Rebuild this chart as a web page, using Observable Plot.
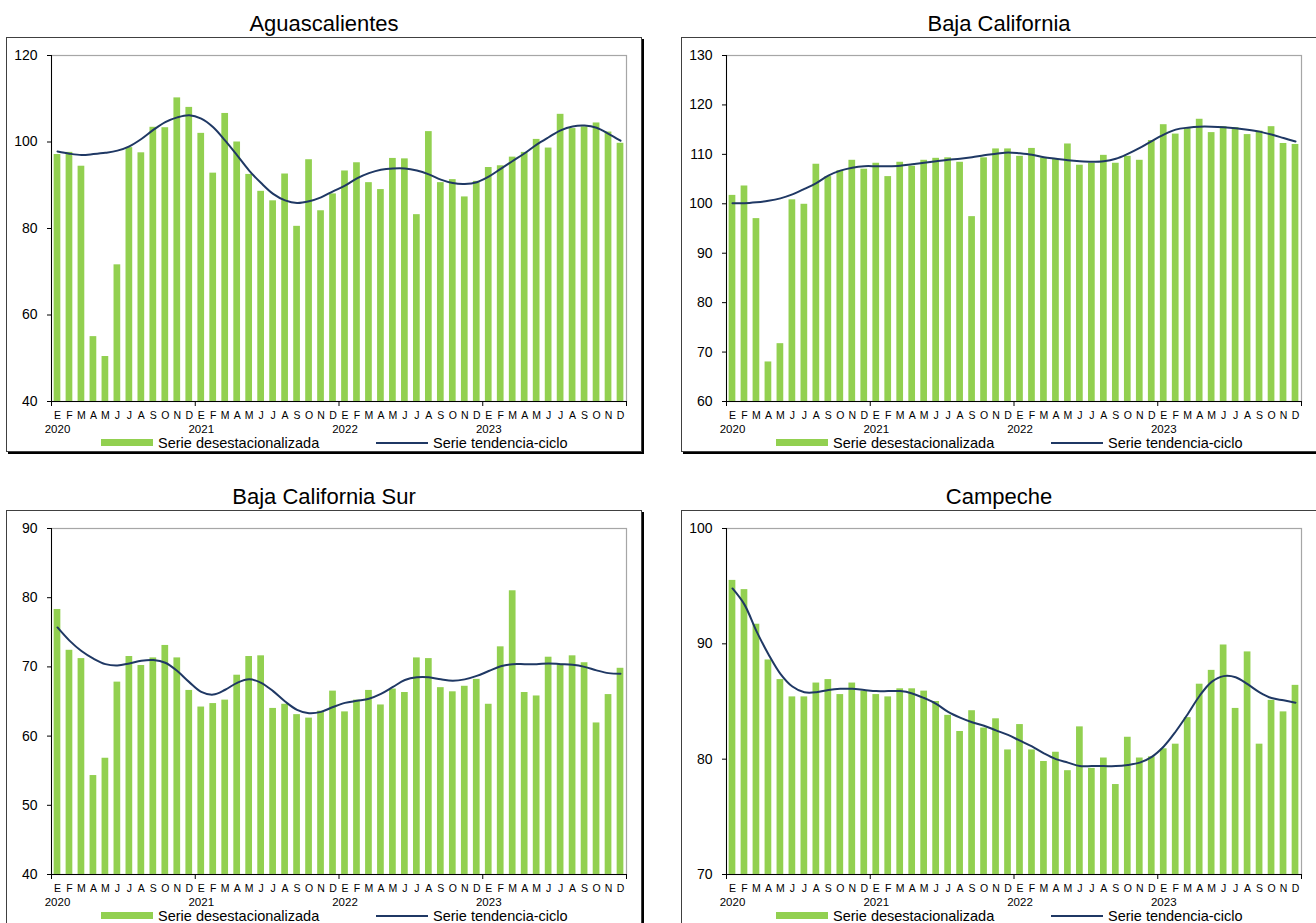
<!DOCTYPE html>
<html>
<head>
<meta charset="utf-8">
<script src="https://cdn.jsdelivr.net/npm/d3@7"></script>
<script src="https://cdn.jsdelivr.net/npm/@observablehq/plot@0.6"></script>
<style>
  html, body { margin: 0; padding: 0; background: #fff; }
  body { font-family: "Liberation Sans", Arial, sans-serif; color: #000; }
  #page { position: relative; width: 1316px; height: 923px; overflow: hidden; background: #fff; }
  .title { position: absolute; width: 636px; text-align: center; font-size: 22px; line-height: 22px; white-space: nowrap; }
  .box { position: absolute; width: 636px; height: 415px; box-sizing: border-box; border: 1px solid #404040; box-shadow: 2px 2px 0 #000; }
  .chart { position: absolute; width: 636px; }
  .chart svg { display: block; max-width: none; }
  .lg-rect { position: absolute; width: 52px; height: 7px; background: #92D050; }
  .lg-line { position: absolute; width: 52px; height: 2px; background: #1F3864; }
  .lg-text { position: absolute; font-size: 14.5px; line-height: 14.5px; white-space: nowrap; }
</style>
</head>
<body>
<div id="page"></div>
<script>
// Etiquetas del eje
const meses = ["E","F","M","A","M","J","J","A","S","O","N","D"];
const anios = ["2020","2021","2022","2023"];
const leyendaBarras = "Serie desestacionalizada";
const leyendaLinea = "Serie tendencia-ciclo";

// Aguascalientes
const agsDes = [97.1, 97.6, 94.4, 55.0, 50.4, 71.6, 98.7, 97.5, 103.4, 103.3, 110.2, 108.0,
                102.0, 92.8, 106.6, 100.0, 92.5, 88.6, 86.4, 92.6, 80.5, 95.9, 84.1, 88.0,
                93.3, 95.2, 90.6, 89.0, 96.2, 96.1, 83.2, 102.4, 90.6, 91.3, 87.3, 90.9,
                94.1, 94.5, 96.5, 97.6, 100.6, 98.6, 106.4, 103.1, 103.5, 104.4, 102.3, 99.7];
const agsTen = [97.8, 97.3, 97.0, 97.2, 97.5, 98.0, 99.0, 100.7, 102.8, 104.6, 105.7, 106.2,
                105.4, 103.4, 100.3, 96.9, 93.4, 90.5, 88.0, 86.5, 85.9, 86.3, 87.2, 88.6,
                89.9, 91.6, 92.8, 93.6, 93.9, 93.9, 93.4, 92.5, 91.3, 90.5, 90.3, 90.7,
                92.0, 93.8, 95.6, 97.4, 99.4, 101.1, 102.7, 103.6, 103.8, 103.3, 101.9, 100.3];
const agsTicks = [40, 60, 80, 100, 120];

// Baja California
const bcDes = [101.7, 103.6, 97.0, 68.0, 71.7, 100.8, 99.9, 108.0, 105.5, 106.7, 108.8, 107.0,
               108.2, 105.5, 108.4, 107.6, 108.8, 109.2, 109.3, 108.4, 97.4, 109.3, 111.1, 111.1,
               109.6, 111.2, 109.3, 109.0, 112.1, 107.8, 108.2, 109.8, 108.2, 109.6, 108.8, 112.8,
               116.0, 114.1, 115.2, 117.1, 114.4, 115.6, 115.4, 114.0, 114.7, 115.6, 112.2, 112.0];
const bcTen = [100.1, 100.1, 100.3, 100.6, 101.1, 101.9, 103.0, 104.2, 105.7, 106.7, 107.3, 107.6,
               107.6, 107.6, 107.7, 108.0, 108.3, 108.6, 108.9, 109.1, 109.4, 109.8, 110.1, 110.4,
               110.2, 109.9, 109.4, 109.1, 108.8, 108.6, 108.5, 108.6, 109.1, 110.1, 111.3, 112.7,
               114.0, 115.0, 115.4, 115.6, 115.6, 115.5, 115.3, 115.0, 114.6, 114.0, 113.3, 112.6];
const bcTicks = [60, 70, 80, 90, 100, 110, 120, 130];

// Baja California Sur
const bcsDes = [78.3, 72.4, 71.2, 54.3, 56.8, 67.8, 71.5, 70.2, 71.3, 73.1, 71.3, 66.6,
                64.2, 64.7, 65.2, 68.8, 71.5, 71.6, 64.0, 64.6, 63.1, 62.6, 63.6, 66.5,
                63.5, 65.2, 66.6, 64.5, 66.8, 66.3, 71.3, 71.2, 67.0, 66.4, 67.2, 68.2,
                64.6, 72.9, 81.0, 66.3, 65.8, 71.4, 70.4, 71.6, 70.6, 61.9, 66.0, 69.8];
const bcsTen = [75.7, 73.8, 72.3, 71.2, 70.4, 70.2, 70.5, 70.9, 71.0, 70.6, 69.4, 67.8,
                66.4, 66.0, 66.7, 67.7, 68.2, 67.7, 66.5, 65.0, 63.8, 63.3, 63.5, 64.2,
                64.8, 65.1, 65.4, 66.1, 67.1, 68.1, 68.5, 68.5, 68.2, 68.0, 68.2, 68.7,
                69.4, 70.1, 70.4, 70.4, 70.4, 70.5, 70.4, 70.3, 70.0, 69.5, 69.1, 69.0];
const bcsTicks = [40, 50, 60, 70, 80, 90];

// Campeche
const campDes = [95.5, 94.7, 91.7, 88.6, 86.9, 85.4, 85.4, 86.6, 86.9, 85.6, 86.6, 85.9,
                 85.6, 85.4, 86.1, 86.1, 85.9, 85.0, 83.8, 82.4, 84.2, 82.7, 83.5, 80.8,
                 83.0, 80.8, 79.8, 80.6, 79.0, 82.8, 79.2, 80.1, 77.8, 81.9, 80.1, 80.2,
                 80.9, 81.3, 83.6, 86.5, 87.7, 89.9, 84.4, 89.3, 81.3, 85.1, 84.1, 86.4];
const campTen = [94.8, 93.4, 91.1, 89.1, 87.4, 86.3, 85.8, 85.8, 86.0, 86.1, 86.1, 86.0,
                 85.9, 85.9, 85.9, 85.7, 85.3, 84.8, 84.1, 83.6, 83.2, 82.9, 82.5, 82.1,
                 81.6, 81.1, 80.5, 80.0, 79.7, 79.4, 79.4, 79.4, 79.4, 79.5, 79.7, 80.2,
                 81.1, 82.4, 83.9, 85.5, 86.7, 87.2, 87.1, 86.5, 85.8, 85.3, 85.1, 84.9];
const campTicks = [70, 80, 90, 100];

const paneles = [
  {titulo: "Aguascalientes", des: agsDes, ten: agsTen, ticks: agsTicks, left: 6, top: 37},
  {titulo: "Baja California", des: bcDes, ten: bcTen, ticks: bcTicks, left: 681, top: 37},
  {titulo: "Baja California Sur", des: bcsDes, ten: bcsTen, ticks: bcsTicks, left: 6, top: 510},
  {titulo: "Campeche", des: campDes, ten: campTen, ticks: campTicks, left: 681, top: 510}
];

const page = document.getElementById("page");
const FONT = "'Liberation Sans', Arial, sans-serif";

function el(cls, css, text) {
  const d = document.createElement("div");
  d.className = cls;
  Object.assign(d.style, css);
  if (text != null) d.textContent = text;
  page.appendChild(d);
  return d;
}

for (const p of paneles) {
  const yMin = p.ticks[0], yMax = p.ticks[p.ticks.length - 1];
  const n = p.des.length;
  const data = p.des.map((v, i) => ({i, v, t: p.ten[i]}));
  const yearStarts = d3.range(0, n, 12);

  const svg = Plot.plot({
    width: 636,
    height: 415,
    marginLeft: 45,
    marginRight: 16,
    marginTop: 18,
    marginBottom: 51,
    x: {domain: [0, n]},
    y: {domain: [yMin, yMax]},
    style: {fontFamily: FONT, color: "#000", background: "transparent", overflow: "visible"},
    marks: [
      Plot.rect(data, {x1: d => d.i + 0.22, x2: d => d.i + 0.78, y1: yMin, y2: "v", fill: "#92D050"}),
      Plot.line(data, {x: d => d.i + 0.5, y: "t", stroke: "#1F3864", strokeWidth: 2, curve: "catmull-rom"}),
      Plot.frame({stroke: "#a6a6a6", strokeWidth: 1.2}),
      Plot.ruleX([0], {stroke: "#000", strokeWidth: 1}),
      Plot.ruleY([yMin], {stroke: "#000", strokeWidth: 1}),
      Plot.axisY({ticks: p.ticks, tickSize: 4, tickPadding: 10, fontSize: 14, label: null}),
      Plot.axisX({ticks: d3.range(n).map(i => i + 0.5), tickFormat: d => meses[Math.floor(d) % 12],
                  tickSize: 0, tickPadding: 10, fontSize: 10.5, label: null}),
      Plot.axisX({ticks: yearStarts.map(i => i + 0.5), tickFormat: d => anios[Math.floor(d / 12)],
                  tickSize: 0, tickPadding: 23, fontSize: 11.5, label: null}),
      Plot.axisX({ticks: d3.range(0, n + 1, 12), tickFormat: () => "", tickSize: 5, label: null})
    ]
  });

  const wrap = el("chart", {left: p.left + "px", top: p.top + "px"});
  wrap.appendChild(svg);

  el("box", {left: p.left + "px", top: p.top + "px"});
  el("title", {left: p.left + "px", top: (p.top - 24) + "px"}, p.titulo);

  el("lg-rect", {left: (p.left + 95) + "px", top: (p.top + 402) + "px"});
  el("lg-text", {left: (p.left + 152) + "px", top: (p.top + 399) + "px"}, leyendaBarras);
  el("lg-line", {left: (p.left + 370) + "px", top: (p.top + 405) + "px"});
  el("lg-text", {left: (p.left + 427) + "px", top: (p.top + 399) + "px"}, leyendaLinea);
}
</script>
</body>
</html>
